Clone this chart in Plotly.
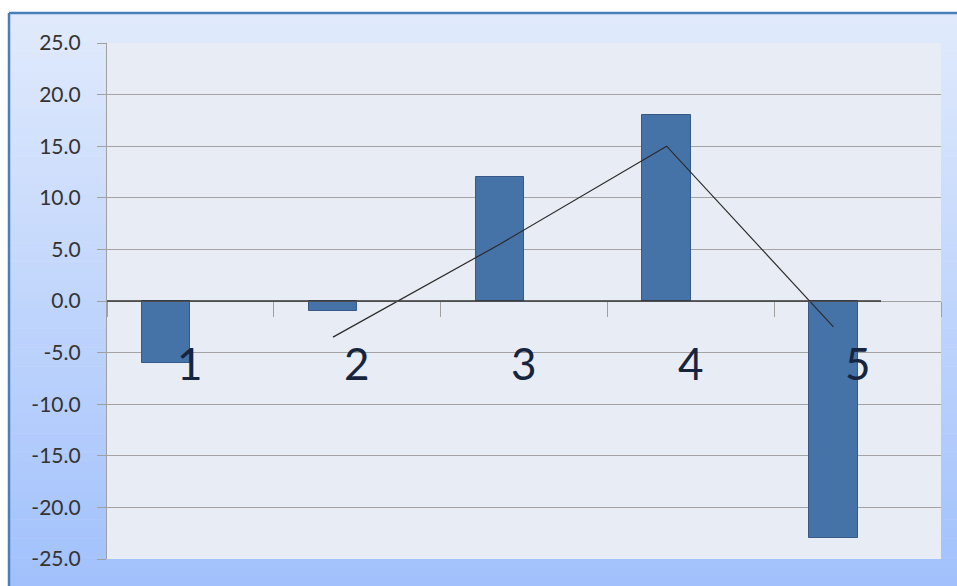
import plotly.graph_objects as go

# Period values and category labels
categories = [1, 2, 3, 4, 5]
values = [-6.0, -1.0, 12.0, 18.0, -23.0]
y_ticks = [25, 20, 15, 10, 5, 0, -5, -10, -15, -20, -25]
y_tick_text = ["%.1f" % v for v in y_ticks]

# 2-period moving average trendline
ma_period = 2
ma_x = categories[ma_period - 1:]
ma_y = [sum(values[i - ma_period + 1:i + 1]) / ma_period for i in range(ma_period - 1, len(values))]

W, H = 957, 586
L, R, T, B = 107, 16, 43, 27
PW, PH = W - L - R, H - T - B

def px_x(p):
    return (p - L) / PW

def px_y(p):
    return (H - B - p) / PH

bar_w = 0.29

fig = go.Figure()
fig.add_trace(go.Bar(
    x=categories, y=values, width=bar_w, offset=-bar_w,
    marker=dict(color="#4572A7", line=dict(color="#36598A", width=1)),
    showlegend=False, hoverinfo="skip",
))
fig.add_trace(go.Scatter(
    x=[c - bar_w / 2 for c in ma_x], y=ma_y, mode="lines",
    line=dict(color="#2B2B2B", width=1.2), showlegend=False, hoverinfo="skip",
))

shapes = []
# chart area gradient background
top_c = (224, 234, 252)
bot_c = (162, 193, 252)
y0, y1 = 13, H
n = 60
for i in range(n):
    a = y0 + (y1 - y0) * i / n
    b = y0 + (y1 - y0) * (i + 1) / n + 0.5
    t = i / (n - 1)
    c = tuple(round(top_c[k] + (bot_c[k] - top_c[k]) * t) for k in range(3))
    shapes.append(dict(type="rect", xref="paper", yref="paper",
                       x0=px_x(9), x1=px_x(W + 10), y0=px_y(b), y1=px_y(a),
                       fillcolor="rgb(%d,%d,%d)" % c, line=dict(width=0), layer="below"))
# chart area border
shapes.append(dict(type="line", xref="paper", yref="paper", x0=px_x(9), x1=px_x(W + 10),
                   y0=px_y(13), y1=px_y(13), line=dict(color="#4A7EBB", width=2.5), layer="below"))
shapes.append(dict(type="line", xref="paper", yref="paper", x0=px_x(9), x1=px_x(9),
                   y0=px_y(13), y1=px_y(H + 10), line=dict(color="#4A7EBB", width=2.5), layer="below"))
# plot area fill
shapes.append(dict(type="rect", xref="paper", yref="paper", x0=0, x1=1, y0=0, y1=1,
                   fillcolor="#E8ECF4", line=dict(width=0), layer="below"))
# dark segment of the category axis line
shapes.append(dict(type="line", xref="paper", yref="y", x0=0, x1=px_x(881), y0=0, y1=0,
                   line=dict(color="#333333", width=1.3), layer="above"))

annotations = [dict(x=c, y=0, xref="x", yref="y", text=str(c), showarrow=False,
                    yanchor="middle", yshift=-62,
                    font=dict(family="Lato, Open Sans, sans-serif", size=44, color="#17243D"))
               for c in categories]

fig.update_layout(
    width=W, height=H,
    margin=dict(l=L, r=R, t=T, b=B),
    paper_bgcolor="white",
    plot_bgcolor="rgba(0,0,0,0)",
    shapes=shapes,
    annotations=annotations,
    bargap=0,
    xaxis=dict(range=[0.5, 5.5], anchor="free", position=0.5,
               tickvals=[c - 0.5 for c in categories] + [categories[-1] + 0.5],
               ticks="outside", ticklen=15, tickcolor="#A0A0A0", tickwidth=1.3,
               showticklabels=False, showgrid=False, zeroline=False,
               showline=True, linecolor="#A0A0A0", linewidth=1.3),
    yaxis=dict(range=[-25, 25], tickvals=y_ticks, ticktext=y_tick_text,
               ticks="outside", ticklen=9, tickcolor="#A0A0A0", tickwidth=1.3,
               ticklabelstandoff=12,
               showgrid=True, gridcolor="#A3A3A3", gridwidth=1.3, zeroline=False,
               showline=True, linecolor="#A0A0A0", linewidth=1.3,
               tickfont=dict(family="Lato, Open Sans, sans-serif", size=21, color="#333333")),
)

fig.write_html("out.html")
